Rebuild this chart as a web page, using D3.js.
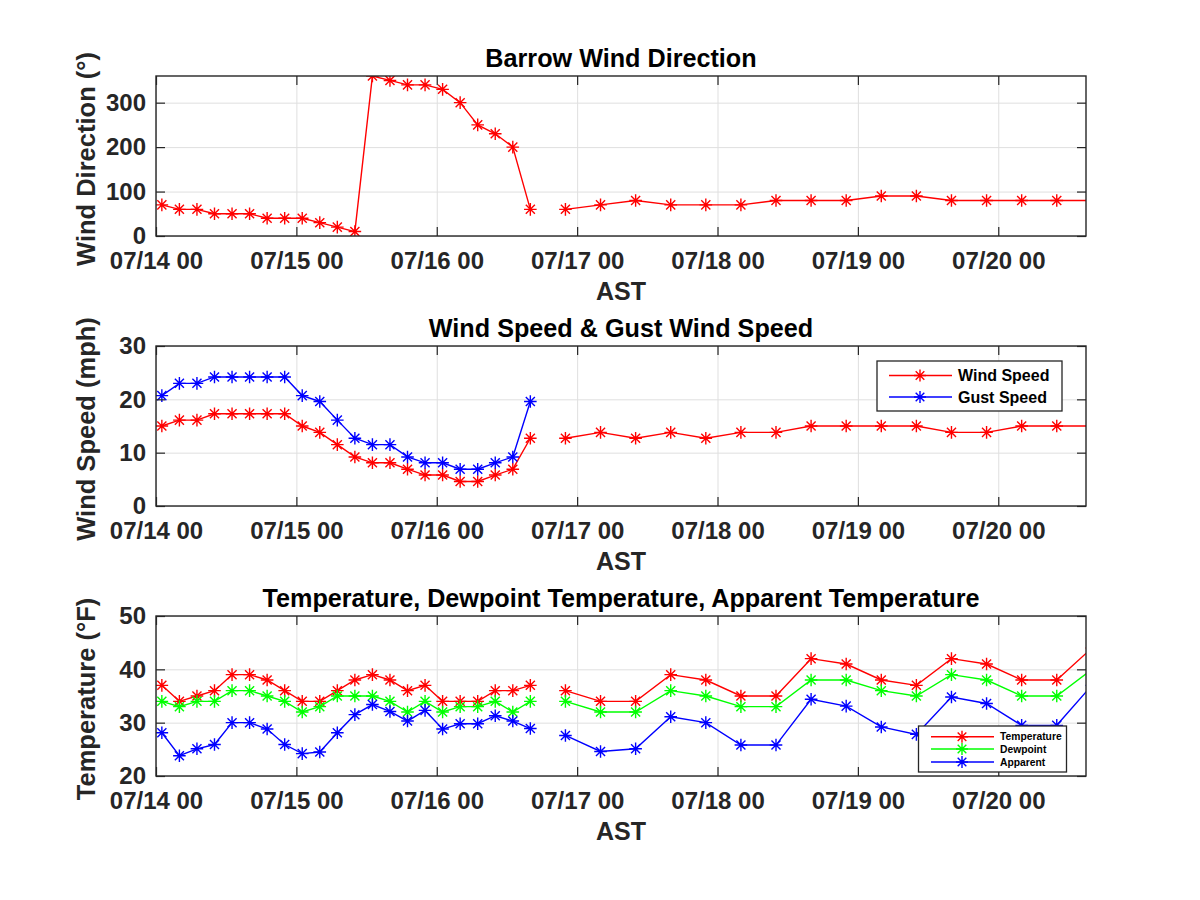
<!DOCTYPE html>
<html>
<head>
<meta charset="utf-8">
<script src="https://cdn.jsdelivr.net/npm/d3@7"></script>
<style>
  html, body { margin: 0; padding: 0; background: #fff; }
  svg { display: block; }
  text { font-family: "Liberation Sans", Arial, Helvetica, sans-serif; font-weight: bold; }
</style>
</head>
<body>
<svg id="chart" width="1200" height="900"></svg>
<script>
// ---------------- DATA ----------------
const times = [
  "07/14 01:00","07/14 04:00","07/14 07:00","07/14 10:00","07/14 13:00","07/14 16:00","07/14 19:00","07/14 22:00",
  "07/15 01:00","07/15 04:00","07/15 07:00","07/15 10:00","07/15 13:00","07/15 16:00","07/15 19:00","07/15 22:00",
  "07/16 01:00","07/16 04:00","07/16 07:00","07/16 10:00","07/16 13:00","07/16 16:00",
  "07/16 19:00",
  "07/16 22:00","07/17 04:00","07/17 10:00","07/17 16:00","07/17 22:00","07/18 04:00","07/18 10:00","07/18 16:00",
  "07/18 22:00","07/19 04:00","07/19 10:00","07/19 16:00","07/19 22:00","07/20 04:00","07/20 10:00","07/20 16:00"
];
const windDirection = [70,60,60,50,50,50,40,40,40,30,20,10,360,350,340,340,330,300,250,230,200,60,
  null,
  60,70,80,70,70,70,80,80,80,90,90,80,80,80,80,80];
const windSpeed = [15.0,16.1,16.1,17.3,17.3,17.3,17.3,17.3,15.0,13.8,11.5,9.2,8.1,8.1,6.9,5.8,5.8,4.6,4.6,5.8,6.9,12.7,
  null,
  12.7,13.8,12.7,13.8,12.7,13.8,13.8,15.0,15.0,15.0,15.0,13.8,13.8,15.0,15.0,15.0];
const gustSpeed = [20.7,23.0,23.0,24.2,24.2,24.2,24.2,24.2,20.7,19.6,16.1,12.7,11.5,11.5,9.2,8.1,8.1,6.9,6.9,8.1,9.2,19.6,
  null,
  null,null,null,null,null,null,null,null,null,null,null,null,null,null,null,null];
const temperature = [37,34,35,36,39,39,38,36,34,34,36,38,39,38,36,37,34,34,34,36,36,37,
  null,
  36,34,34,39,38,35,35,42,41,38,37,42,41,38,38,44];
const dewpoint = [34,33,34,34,36,36,35,34,32,33,35,35,35,34,32,34,32,33,33,34,32,34,
  null,
  34,32,32,36,35,33,33,38,38,36,35,39,38,35,35,40];
const apparent = [28.1,23.8,25.1,25.9,30.0,30.0,28.8,25.9,24.2,24.5,28.1,31.5,33.4,32.1,30.3,32.3,28.8,29.8,29.8,31.3,30.3,28.9,
  null,
  27.6,24.6,25.1,31.1,30.0,25.8,25.8,34.4,33.1,29.2,27.8,34.8,33.6,29.5,29.5,37.0];

const xStart = "07/14 00:00";
const xEnd = "07/20 15:00";
const xLabel = "AST";

const panels = [
  { title: "Barrow Wind Direction", ylabel: "Wind Direction (°)", yDomain: [0, 360], yTicks: [0,100,200,300],
    series: [{ name: "Wind Direction", values: windDirection, color: "#ff0000" }], legend: null },
  { title: "Wind Speed & Gust Wind Speed", ylabel: "Wind Speed (mph)", yDomain: [0, 30], yTicks: [0,10,20,30],
    series: [{ name: "Wind Speed", values: windSpeed, color: "#ff0000" },
             { name: "Gust Speed", values: gustSpeed, color: "#0000ff" }], legend: "big" },
  { title: "Temperature, Dewpoint Temperature, Apparent Temperature", ylabel: "Temperature (°F)", yDomain: [20, 50], yTicks: [20,30,40,50],
    series: [{ name: "Temperature", values: temperature, color: "#ff0000" },
             { name: "Dewpoint", values: dewpoint, color: "#00ff00" },
             { name: "Apparent", values: apparent, color: "#0000ff" }], legend: "small" }
];

// ---------------- LAYOUT ----------------
const parse = d3.timeParse("%Y/%m/%d %H:%M");
const P = s => parse("2017/" + s);
const dates = times.map(P);

const left = 156, right = 1086, ph = 160;
const tops = [76, 346, 616];
const axisColor = "#262626";
const gridColor = "#dfdfdf";

const svg = d3.select("#chart");
svg.append("rect").attr("width", 1200).attr("height", 900).attr("fill", "#fff");

const x = d3.scaleTime().domain([P(xStart), P(xEnd)]).range([left, right]);
const fmt = d3.timeFormat("%m/%d %H");

function asterisk(g, cx, cy, r, color) {
  const d = r * 0.72;
  g.append("path")
    .attr("d", `M${cx-r},${cy}L${cx+r},${cy}M${cx},${cy-r}L${cx},${cy+r}M${cx-d},${cy-d}L${cx+d},${cy+d}M${cx-d},${cy+d}L${cx+d},${cy-d}`)
    .attr("stroke", color).attr("stroke-width", 1.4).attr("fill", "none");
}

panels.forEach((p, i) => {
  const top = tops[i], bottom = top + ph;
  const y = d3.scaleLinear().domain(p.yDomain).range([bottom, top]);
  const g = svg.append("g");

  // clip
  const clipId = "clip" + i;
  svg.append("clipPath").attr("id", clipId)
    .append("rect").attr("x", left).attr("y", top).attr("width", right - left).attr("height", ph);

  // grid
  const gx = g.append("g").attr("transform", `translate(0,${bottom})`)
    .call(d3.axisBottom(x).ticks(d3.timeDay.every(1)).tickSize(-ph).tickFormat(""));
  gx.select(".domain").remove();
  gx.selectAll("line").attr("stroke", gridColor).attr("stroke-width", 1);
  const gy = g.append("g").attr("transform", `translate(${left},0)`)
    .call(d3.axisLeft(y).tickValues(p.yTicks).tickSize(-(right - left)).tickFormat(""));
  gy.select(".domain").remove();
  gy.selectAll("line").attr("stroke", gridColor).attr("stroke-width", 1);

  // data
  const dg = g.append("g").attr("clip-path", `url(#${clipId})`);
  p.series.forEach(s => {
    const pts = dates.map((d, k) => ({ d, v: s.values[k] }));
    const line = d3.line().defined(q => q.v != null).x(q => x(q.d)).y(q => y(q.v));
    dg.append("path").datum(pts).attr("d", line)
      .attr("fill", "none").attr("stroke", s.color).attr("stroke-width", 1.4);
    pts.filter(q => q.v != null).forEach(q => asterisk(dg, x(q.d), y(q.v), 6.3, s.color));
  });

  // axes (ticks inward)
  const ab = g.append("g").attr("transform", `translate(0,${bottom})`)
    .call(d3.axisBottom(x).ticks(d3.timeDay.every(1)).tickFormat(fmt).tickSize(-9).tickPadding(16));
  const at = g.append("g").attr("transform", `translate(0,${top})`)
    .call(d3.axisTop(x).ticks(d3.timeDay.every(1)).tickFormat("").tickSize(-9));
  const al = g.append("g").attr("transform", `translate(${left},0)`)
    .call(d3.axisLeft(y).tickValues(p.yTicks).tickSize(-9).tickPadding(10));
  const ar = g.append("g").attr("transform", `translate(${right},0)`)
    .call(d3.axisRight(y).tickValues(p.yTicks).tickSize(-9).tickFormat(""));
  [ab, at, al, ar].forEach(a => {
    a.select(".domain").remove();
    a.selectAll("line").attr("stroke", axisColor).attr("stroke-width", 1.2);
    a.selectAll("text").attr("fill", axisColor).style("font-size", "24px")
      .style("font-family", '"Liberation Sans", Arial, sans-serif').style("font-weight", "bold");
  });

  // frame
  g.append("rect").attr("x", left).attr("y", top).attr("width", right - left).attr("height", ph)
    .attr("fill", "none").attr("stroke", axisColor).attr("stroke-width", 1.4);

  // title
  g.append("text").attr("x", (left + right) / 2).attr("y", top - 9.5)
    .attr("text-anchor", "middle").attr("fill", "#000").style("font-size", "25.2px").text(p.title);
  // x label
  g.append("text").attr("x", (left + right) / 2).attr("y", bottom + 64)
    .attr("text-anchor", "middle").attr("fill", axisColor).style("font-size", "25px").text(xLabel);
  // y label
  g.append("text").attr("transform", `translate(95,${(top + bottom) / 2 + 3}) rotate(-90)`)
    .attr("text-anchor", "middle").attr("fill", axisColor).style("font-size", "25.5px").text(p.ylabel);

  // legend
  if (p.legend) {
    const L = p.legend === "big"
      ? { x0: 877, y0: 361, w: 185, h: 50, rows: [375.5, 397], lx0: 889, lx1: 952, mx: 920, tx: 958, fs: 16, mr: 6 }
      : { x0: 918.5, y0: 726, w: 148, h: 46, rows: [736.7, 749, 762], lx0: 931, lx1: 994, mx: 962, tx: 1000, fs: 10.3, mr: 6 };
    const lg = g.append("g");
    lg.append("rect").attr("x", L.x0).attr("y", L.y0).attr("width", L.w).attr("height", L.h)
      .attr("fill", "#fff").attr("stroke", axisColor).attr("stroke-width", 1.3);
    p.series.forEach((s, k) => {
      const ry = L.rows[k];
      lg.append("line").attr("x1", L.lx0).attr("x2", L.lx1).attr("y1", ry).attr("y2", ry)
        .attr("stroke", s.color).attr("stroke-width", 1.4);
      asterisk(lg, L.mx, ry, L.mr, s.color);
      lg.append("text").attr("x", L.tx).attr("y", ry).attr("dy", "0.36em")
        .attr("fill", "#000").style("font-size", L.fs + "px").text(s.name);
    });
  }
});
</script>
</body>
</html>
